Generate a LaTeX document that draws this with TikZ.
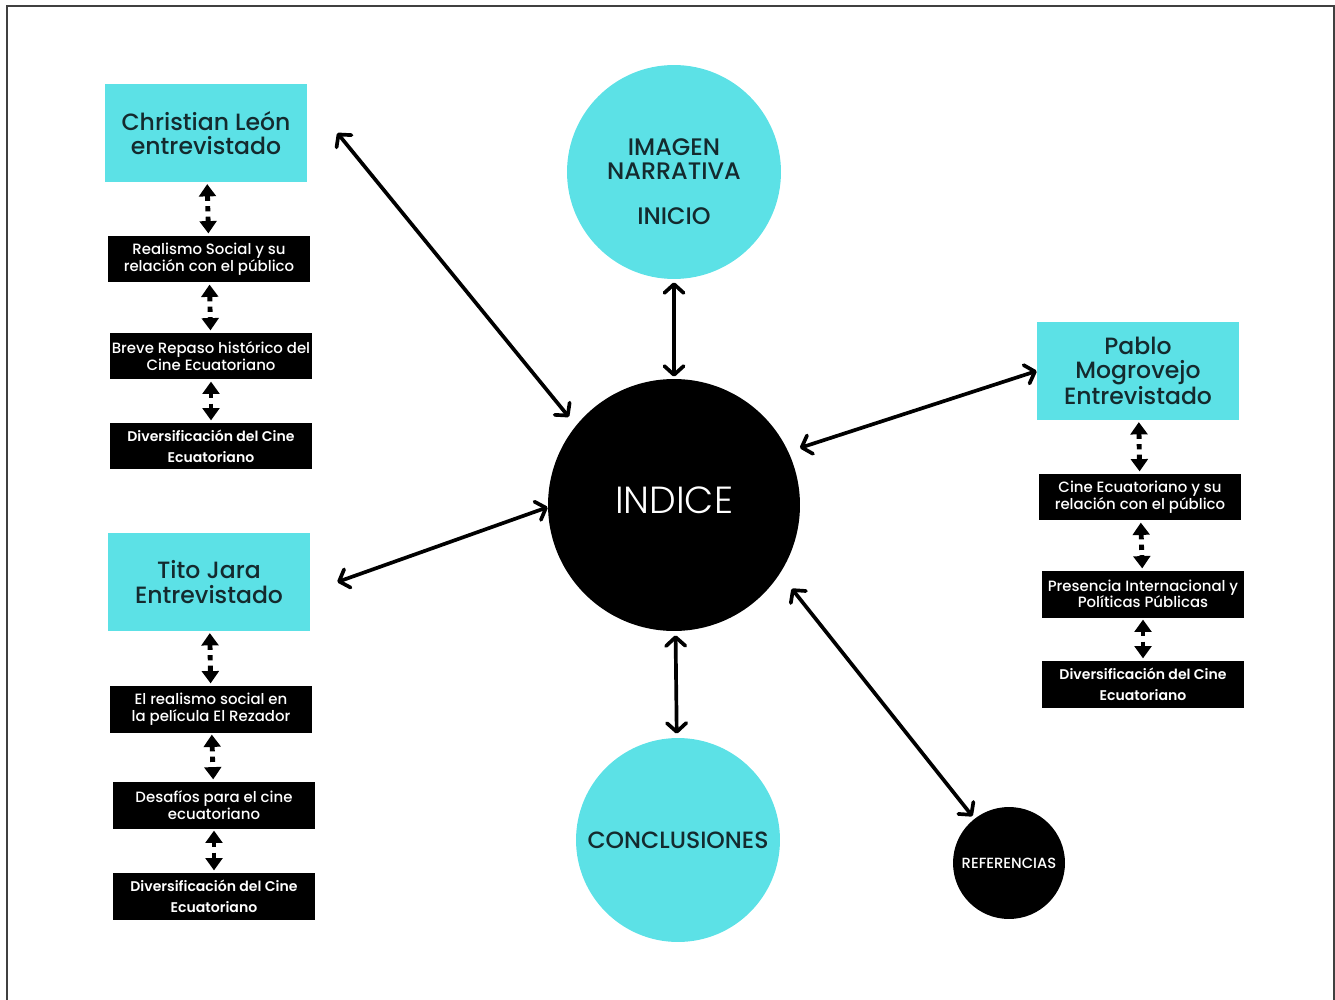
\documentclass[tikz,border=0pt]{standalone}
\usepackage{fontspec}
\setmainfont{Poppins}
\newfontfamily\medfont{Poppins Medium}
\newfontfamily\semifont{Poppins SemiBold}
\newfontfamily\lightfont{Poppins Light}
\usepackage{tikz}
\usetikzlibrary{arrows.meta,positioning,calc}
\definecolor{turq}{HTML}{5CE1E6}
\definecolor{ink}{HTML}{142A2E}
\begin{document}
\begin{tikzpicture}[x=0.02cm, y=-0.02cm,
    cbox/.style={fill=turq, text=ink, minimum width=4.04cm, minimum height=1.96cm, align=center, font=\medfont\fontsize{13.4}{13.8}\selectfont},
    bbox/.style={fill=black, text=white, minimum width=4.04cm, minimum height=0.94cm, align=center, inner sep=1pt, font=\medfont\fontsize{8.5}{9.4}\selectfont},
    dbox/.style={bbox, font=\semifont\fontsize{8}{12}\selectfont},
    disc/.style={circle, inner sep=0pt, align=center},
    arr/.style={{Straight Barb[round,length=5pt,width=11pt]}-{Straight Barb[round,length=5pt,width=11pt]}, line width=2.1pt},
    darr/.style={{Triangle[length=7pt,width=9.5pt]}-{Triangle[length=7pt,width=9.5pt]}, line width=2.8pt, dash pattern=on 3pt off 3pt, shorten <=1pt, shorten >=1pt}
]
\useasboundingbox (0,0) rectangle (1335,1000);
\draw[line width=1.2pt, black!75] (7,1004) -- (7,6) -- (1334,6) -- (1334,1004);

% centro
\node[disc, fill=black, text=white, minimum size=5.04cm, font=\lightfont\fontsize{21.5}{22}\selectfont] (indice) at (674,505) {\smash{\raisebox{-4.7pt}{INDICE}}};
\node[disc, fill=turq, text=ink, minimum size=4.28cm, font=\medfont\fontsize{13.6}{13.6}\selectfont] (imagen) at (674,172)
  {\smash{\raisebox{-11pt}{\begin{tabular}{@{}c@{}}IMAGEN\\NARRATIVA\\[12pt]INICIO\end{tabular}}}};
\node[disc, fill=turq, text=ink, minimum size=4.08cm, font=\medfont\fontsize{13.4}{14}\selectfont] (concl) at (678,840) {CONCLUSIONES};
\node[disc, fill=black, text=white, minimum size=2.24cm, font=\medfont\fontsize{8.4}{9}\selectfont] (refs) at (1009,863) {REFERENCIAS};

% Christian Leon
\node[cbox] (chris) at (206,133) {Christian León\\entrevistado};
\node[bbox] (social) at (209,259) {Realismo Social y su\\relación con el público};
\node[bbox] (repaso) at (211,356) {Breve Repaso histórico del\\Cine Ecuatoriano};
\node[dbox] (diverA) at (211,446) {Diversificación del Cine\\Ecuatoriano};

% Tito Jara
\node[cbox] (tito) at (209,582) {Tito Jara\\Entrevistado};
\node[bbox] (rezador) at (211,709) {El realismo social en\\la película El Rezador};
\node[bbox] (desafio) at (214,805) {Desafíos para el cine\\ecuatoriano};
\node[dbox] (diverB) at (214,896) {Diversificación del Cine\\Ecuatoriano};

% Pablo Mogrovejo
\node[cbox] (pablo) at (1138,371) {Pablo\\Mogrovejo\\Entrevistado};
\node[bbox] (publico) at (1140,497) {Cine Ecuatoriano y su\\relación con el público};
\node[bbox] (presencia) at (1143,594) {Presencia Internacional y\\Políticas Públicas};
\node[dbox] (diverC) at (1143,684) {Diversificación del Cine\\Ecuatoriano};

% flechas al indice
\draw[arr, shorten >=0.22cm] ([xshift=0.6cm]chris.east) -- (indice.141);
\draw[arr, shorten <=0.06cm, shorten >=0.04cm] (imagen) -- (indice);
\draw[arr, shorten >=0.24cm] (pablo.west) -- (indice.25);
\draw[arr] ([xshift=0.54cm]tito.east) -- (indice.181);
\draw[arr, shorten <=0.08cm, shorten >=0.08cm] (indice) -- (concl);
\draw[arr, shorten <=0.38cm, shorten >=0.06cm] (indice.-33) -- (refs.128);

% columnas
\draw[darr] (chris) -- (social);
\draw[darr] (social) -- (repaso);
\draw[darr] (repaso) -- (diverA);
\draw[darr] (tito) -- (rezador);
\draw[darr] (rezador) -- (desafio);
\draw[darr] (desafio) -- (diverB);
\draw[darr] (pablo) -- (publico);
\draw[darr] (publico) -- (presencia);
\draw[darr] (presencia) -- (diverC);
\end{tikzpicture}
\end{document}
